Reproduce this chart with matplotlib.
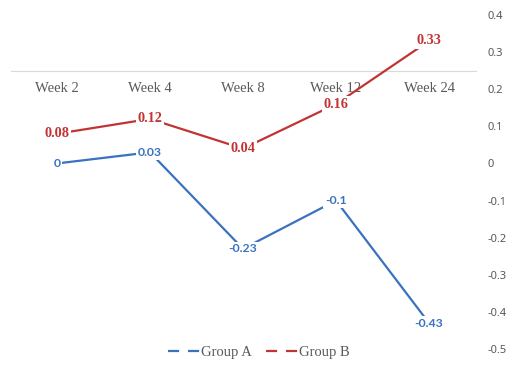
import matplotlib.pyplot as plt
from matplotlib.lines import Line2D

weeks = ["Week 2", "Week 4", "Week 8", "Week 12", "Week 24"]
group_a = [0, 0.03, -0.23, -0.1, -0.43]
group_b = [0.08, 0.12, 0.04, 0.16, 0.33]
y_ticks = [0.4, 0.3, 0.2, 0.1, 0, -0.1, -0.2, -0.3, -0.4, -0.5]
y_tick_labels = ["0.4", "0.3", "0.2", "0.1", "0", "-0.1", "-0.2", "-0.3", "-0.4", "-0.5"]

blue = "#3a72c0"
red = "#c23434"
gray = "#595959"

fig = plt.figure(figsize=(5.18, 3.70), dpi=100)
ax = fig.add_axes([10.5 / 518, 21 / 370, 465 / 518, 334 / 370])

x = list(range(len(weeks)))
ax.plot(x, group_a, color=blue, lw=1.6, solid_capstyle="round", zorder=2)
ax.plot(x, group_b, color=red, lw=1.6, solid_capstyle="round", zorder=2)

for xi, v in zip(x, group_a):
    ax.text(xi, v, f"{v:g}", color=blue, fontsize=8.8, fontweight="bold",
            family="Lato", ha="center", va="center", zorder=3,
            bbox=dict(fc="white", ec="none", pad=1.2))
for xi, v in zip(x, group_b):
    ax.text(xi, v, f"{v:g}", color=red, fontsize=10.3, fontweight="bold",
            family="Liberation Serif", ha="center", va="center", zorder=3,
            bbox=dict(fc="white", ec="none", pad=1.2))

ax.set_xlim(-0.5, len(weeks) - 0.5)
ax.set_ylim(-0.5, 0.4)

# category axis crosses at 0.25
ax.spines["bottom"].set_position(("data", 0.25))
ax.spines["bottom"].set_color("#d9d9d9")
ax.spines["bottom"].set_zorder(1)
for s in ["top", "left", "right"]:
    ax.spines[s].set_visible(False)
ax.set_xticks(x)
ax.set_xticklabels(weeks, family="Liberation Serif", fontsize=10.5, color=gray)
ax.tick_params(axis="x", length=0, pad=8)

ax.yaxis.tick_right()
ax.set_yticks(y_ticks)
ax.set_yticklabels(y_tick_labels, family="Noto Sans", fontsize=8, color=gray)
ax.tick_params(axis="y", length=0, pad=9)

handles = [Line2D([], [], color=blue, lw=1.6, dashes=(5, 4)),
           Line2D([], [], color=red, lw=1.6, dashes=(5, 4))]
leg = fig.legend(handles, ["Group A", "Group B"], loc="center",
                 bbox_to_anchor=(0.5, 18 / 370), ncol=2, frameon=False,
                 prop={"family": "Liberation Serif", "size": 10.5},
                 handlelength=2.2, handletextpad=0.05, columnspacing=1.0)
for t in leg.get_texts():
    t.set_color(gray)

fig.savefig("out.png", dpi=100)
